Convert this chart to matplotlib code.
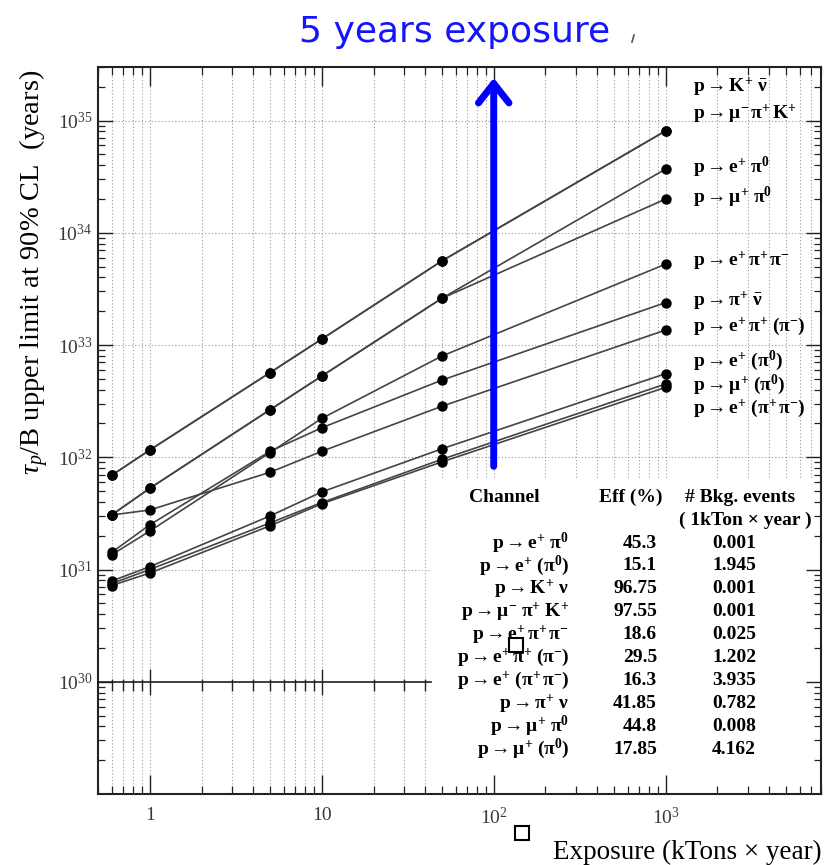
"""Proton-decay sensitivity vs exposure: 90% CL lifetime limits per channel."""
import matplotlib
matplotlib.use("Agg")
import matplotlib.pyplot as plt
from matplotlib.lines import Line2D
from matplotlib.patches import Rectangle
from matplotlib.ticker import NullFormatter

plt.rcParams.update({
    "font.family": ["Liberation Serif", "DejaVu Serif"],
    "mathtext.fontset": "custom",
    "mathtext.rm": "Liberation Serif",
    "mathtext.it": "Liberation Serif:italic",
    "mathtext.bf": "Liberation Serif:bold",
})

W, H = 824, 865

# exposure points (kTon x year)
EXPOSURE = [0.6, 1, 5, 10, 50, 1000]

# tau/B limits (years) per channel, same order as EXPOSURE
LIMIT_K_NU      = [6.9e31, 1.16e32, 5.67e32, 1.13e33, 5.62e33, 8.1e34]
LIMIT_MU_PI_K   = [6.9e31, 1.16e32, 5.67e32, 1.13e33, 5.62e33, 8.1e34]
LIMIT_E_PI0     = [3.06e31, 5.29e31, 2.65e32, 5.29e32, 2.61e33, 3.7e34]
LIMIT_MU_PI0    = [3.06e31, 5.29e31, 2.65e32, 5.29e32, 2.61e33, 2.0e34]
LIMIT_E_PI_PI   = [1.35e31, 2.2e31, 1.10e32, 2.22e32, 7.98e32, 5.26e33]
LIMIT_PI_NU     = [1.42e31, 2.5e31, 1.13e32, 1.83e32, 4.87e32, 2.39e33]
LIMIT_E_PI_XPI  = [3.06e31, 3.39e31, 7.35e31, 1.13e32, 2.85e32, 1.36e33]
LIMIT_E_XPI0    = [7.9e30, 1.06e31, 3.0e31, 4.91e31, 1.19e32, 5.56e32]
LIMIT_MU_XPI0   = [7.5e30, 1.0e31, 2.6e31, 3.95e31, 9.6e31, 4.5e32]
LIMIT_E_XPIPI   = [7.2e30, 9.3e30, 2.45e31, 3.85e31, 9.1e31, 4.2e32]

SERIES = [LIMIT_K_NU, LIMIT_MU_PI_K, LIMIT_E_PI0, LIMIT_MU_PI0, LIMIT_E_PI_PI,
          LIMIT_PI_NU, LIMIT_E_PI_XPI, LIMIT_E_XPI0, LIMIT_MU_XPI0, LIMIT_E_XPIPI]

CURVE_LABELS = [
    r"$\mathbf{p \rightarrow K^{+}\ \bar{\nu}}$",
    r"$\mathbf{p \rightarrow \mu^{-}\,\pi^{+}\,K^{+}}$",
    r"$\mathbf{p \rightarrow e^{+}\ \pi^{0}}$",
    r"$\mathbf{p \rightarrow \mu^{+}\ \pi^{0}}$",
    r"$\mathbf{p \rightarrow e^{+}\,\pi^{+}\,\pi^{-}}$",
    r"$\mathbf{p \rightarrow \pi^{+}\ \bar{\nu}}$",
    r"$\mathbf{p \rightarrow e^{+}\,\pi^{+}\ (\pi^{-})}$",
    r"$\mathbf{p \rightarrow e^{+}\ (\pi^{0})}$",
    r"$\mathbf{p \rightarrow \mu^{+}\ (\pi^{0})}$",
    r"$\mathbf{p \rightarrow e^{+}\ (\pi^{+}\,\pi^{-})}$",
]
# label heights (years) at the right-hand side
CURVE_LABEL_Y = [2.0e35, 1.15e35, 3.86e34, 2.08e34, 5.59e33, 2.5e33,
                 1.47e33, 7.16e32, 4.46e32, 2.72e32]

# selection summary table
TABLE_CHANNELS = [
    r"$\mathbf{p \rightarrow e^{+}\ \pi^{0}}$",
    r"$\mathbf{p \rightarrow e^{+}\ (\pi^{0})}$",
    r"$\mathbf{p \rightarrow K^{+}\ \nu}$",
    r"$\mathbf{p \rightarrow \mu^{-}\ \pi^{+}\ K^{+}}$",
    r"$\mathbf{p \rightarrow e^{+}\,\pi^{+}\,\pi^{-}}$",
    r"$\mathbf{p \rightarrow e^{+}\,\pi^{+}\ (\pi^{-})}$",
    r"$\mathbf{p \rightarrow e^{+}\ (\pi^{+}\,\pi^{-})}$",
    r"$\mathbf{p \rightarrow \pi^{+}\ \nu}$",
    r"$\mathbf{p \rightarrow \mu^{+}\ \pi^{0}}$",
    r"$\mathbf{p \rightarrow \mu^{+}\ (\pi^{0})}$",
]
TABLE_EFF = ["45.3", "15.1", "96.75", "97.55", "18.6", "29.5", "16.3", "41.85", "44.8", "17.85"]
TABLE_BKG = ["0.001", "1.945", "0.001", "0.001", "0.025", "1.202", "3.935", "0.782", "0.008", "4.162"]

XMIN, XMAX = 0.5, 8000
YMIN, YMAX = 1.0e29, 3.0e35


def fx(px):
    return px / W


def fy(py):
    return 1 - py / H


fig = plt.figure(figsize=(W / 100, H / 100), dpi=100)
ax = fig.add_axes([fx(98), fy(794), (821 - 98) / W, (794 - 67) / H])
ax.set_xscale("log")
ax.set_yscale("log")
ax.set_xlim(XMIN, XMAX)
ax.set_ylim(YMIN, YMAX)

# dotted grid: every x tick, y decades only
grid_x = [k * d for d in (0.1, 1, 10, 100, 1000) for k in range(1, 10)
          if XMIN < k * d < XMAX]
grid_y = [10.0 ** e for e in range(30, 36)]
ax.vlines(grid_x, YMIN, YMAX, colors="#9a9a9a", linestyles=(0, (1, 2)),
          lw=0.8, zorder=0.5)
ax.hlines(grid_y, XMIN, XMAX, colors="#9a9a9a", linestyles=(0, (1, 2)),
          lw=0.8, zorder=0.5)

# old frame line at 1e30 with its tick marks
ax.plot([XMIN, 43], [1e30, 1e30], color="#222", lw=1.2, zorder=1.6)
minor = [x for x in grid_x if x < 43 and x not in (1, 10)]
ax.vlines(minor, 1e30 * 10 ** (-9 / 112), 1e30 * 10 ** (3 / 112),
          colors="#222", lw=1.0, zorder=1.6)
ax.vlines([1, 10], 1e30 * 10 ** (-13 / 112), 1e30 * 10 ** (13 / 112),
          colors="#222", lw=1.0, zorder=1.6)

# white panel behind the table
ax.add_patch(Rectangle((0.462, 0.0), 0.538, 0.432, transform=ax.transAxes,
                       facecolor="white", edgecolor="none", zorder=1))

for vals in SERIES:
    ax.plot(EXPOSURE, vals, color="#444444", lw=1.2, marker="o", ms=6.5,
            mfc="black", mec="black", zorder=3)

for lab, y in zip(CURVE_LABELS, CURVE_LABEL_Y):
    ax.text(1435, y, lab, fontsize=14, ha="left", va="center", zorder=4)

# 5-year exposure marker
ax.annotate("", xy=(100, 2.4e35), xytext=(100, 8.3e31),
            arrowprops=dict(arrowstyle="->,head_length=1.4,head_width=1.1",
                            color="#0000ff", lw=5, mutation_scale=10,
                            shrinkA=0, shrinkB=0), zorder=5)

ax.set_xticks([1, 10, 100, 1000])
ax.set_xticklabels(["1", "10", r"$10^{2}$", r"$10^{3}$"])
ax.xaxis.set_minor_formatter(NullFormatter())
ax.set_yticks(grid_y)
ax.set_yticklabels([rf"$10^{{{e}}}$" for e in range(30, 36)])
ax.yaxis.set_minor_formatter(NullFormatter())
ax.tick_params(which="both", direction="in", top=True, right=True,
               colors="#222", labelcolor="#3a3a3a", labelsize=14)
ax.tick_params(axis="x", which="major", length=14, width=1.0, pad=9)
ax.tick_params(axis="x", which="minor", length=6, width=0.9)
ax.tick_params(axis="y", which="major", length=11, width=1.0, pad=4)
ax.tick_params(axis="y", which="minor", length=5, width=0.9)
for s in ax.spines.values():
    s.set_linewidth(1.5)
    s.set_color("#222")

fig.text(fx(34), fy(272), r"$\tau_{p}$/B upper limit at 90% CL  (years)",
         rotation=90, ha="center", va="center", fontsize=20.5)
fig.text(fx(822), fy(852), "Exposure (kTons × year)", ha="right",
         va="center", fontsize=19.5)
fig.text(fx(455), fy(32), "5 years exposure", color="#1414ff",
         family="DejaVu Sans", fontsize=26, ha="center", va="center")
fig.add_artist(Line2D([fx(632), fx(634)], [fy(42), fy(35)],
                      transform=fig.transFigure, color="#556", lw=1.2))

# table
tkw = dict(fontsize=14, fontweight="bold", va="center")
fig.text(fx(504), fy(497), "Channel", ha="center", **tkw)
fig.text(fx(631), fy(497), "Eff (%)", ha="center", **tkw)
fig.text(fx(740), fy(497), "# Bkg. events", ha="center", **tkw)
fig.text(fx(745), fy(520), "( 1kTon × year )", ha="center", **tkw)
row_y = [543 + 22.9 * i for i in range(len(TABLE_CHANNELS))]
for ch, eff, bkg, py in zip(TABLE_CHANNELS, TABLE_EFF, TABLE_BKG, row_y):
    fig.text(fx(569), fy(py), ch, ha="right", **tkw)
    fig.text(fx(657), fy(py), eff, ha="right", **tkw)
    fig.text(fx(734), fy(py), bkg, ha="center", **tkw)

# small open squares
for cx, cy in [(516, 645), (522, 833)]:
    fig.add_artist(Rectangle((fx(cx - 7), fy(cy + 7)), 14 / W, 14 / H,
                             transform=fig.transFigure, fill=False,
                             edgecolor="black", lw=1.5))

fig.savefig("out.png", dpi=100)
